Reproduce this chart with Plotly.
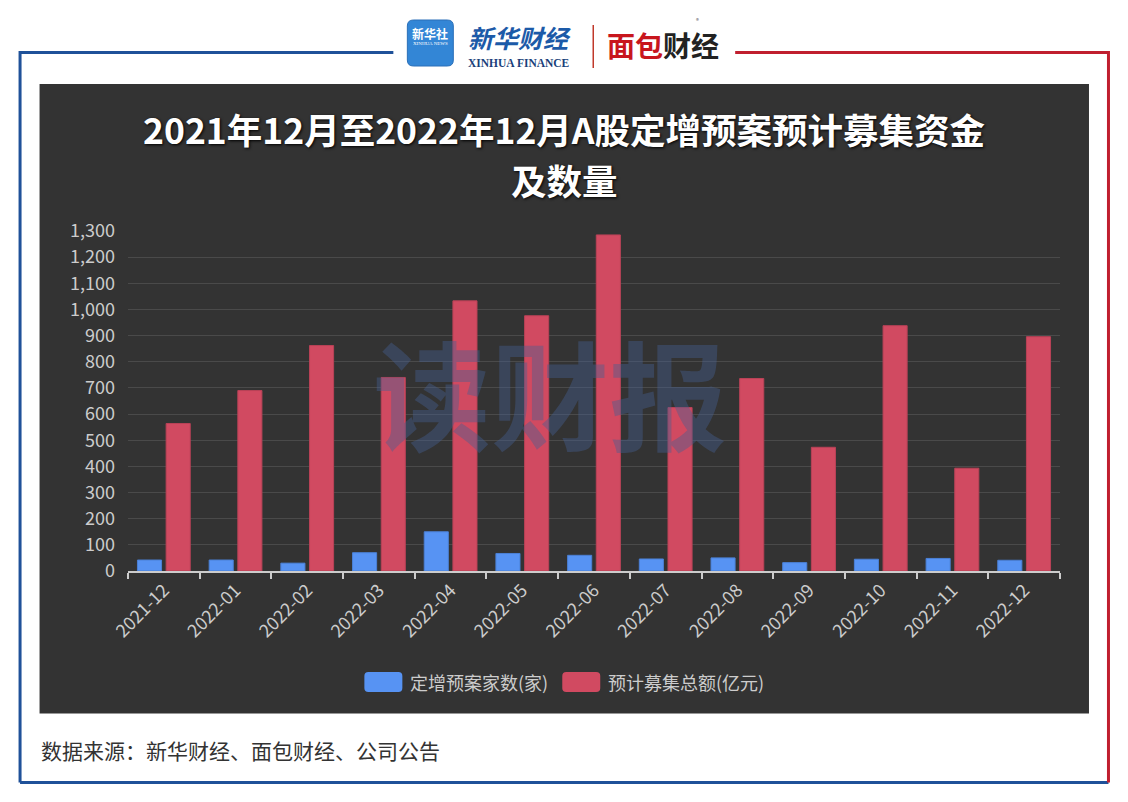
import plotly.graph_objects as go

# ---------------- data ----------------
months = ["2021-12", "2022-01", "2022-02", "2022-03", "2022-04", "2022-05", "2022-06",
          "2022-07", "2022-08", "2022-09", "2022-10", "2022-11", "2022-12"]
plan_count = [42, 42, 30, 70, 150, 67, 60, 46, 50, 32, 45, 48, 41]
raise_amount = [564, 690, 862, 740, 1033, 976, 1285, 625, 736, 473, 938, 393, 896]
series_names = ["定增预案家数(家)", "预计募集总额(亿元)"]
y_ticks = list(range(0, 1301, 100))
title_lines = ["2021年12月至2022年12月A股定增预案预计募集资金", "及数量"]
source_text = "数据来源：新华财经、面包财经、公司公告"
watermark = "读财报"

# ---------------- geometry helpers ----------------
W, H = 1128, 802
L, R, T, B = 127.5, 68, 231, 231
PW, PH = W - L - R, H - T - B


def px(x):
    return (x - L) / PW


def py(y):
    return (H - B - y) / PH


def rrect(x0, y0, x1, y1, r):
    rx, ry = r / PW, r / PH
    a0, a1 = px(x0), px(x1)
    b0, b1 = py(y1), py(y0)  # b0 bottom, b1 top
    return (f"M{a0+rx},{b0} L{a1-rx},{b0} Q{a1},{b0} {a1},{b0+ry} "
            f"L{a1},{b1-ry} Q{a1},{b1} {a1-rx},{b1} L{a0+rx},{b1} "
            f"Q{a0},{b1} {a0},{b1-ry} L{a0},{b0+ry} Q{a0},{b0} {a0+rx},{b0} Z")


BLUE, RED = "#5793f3", "#d14a61"
FONT = "Noto Sans CJK SC"

fig = go.Figure()
fig.add_trace(go.Bar(x=months, y=plan_count, name=series_names[0], marker_color=BLUE,
                     marker_line=dict(width=1, color="#4b80d6")))
fig.add_trace(go.Bar(x=months, y=raise_amount, name=series_names[1], marker_color=RED,
                     marker_line=dict(width=1, color="#b94257")))

shapes = []
# dark panel
shapes.append(dict(type="rect", xref="paper", yref="paper", x0=px(39), x1=px(1089),
                   y0=py(713.5), y1=py(84), fillcolor="#333333", line_width=0, layer="below"))
# frame lines
FB, FR = "#1f5199", "#c01f2f"
for (x0, y0, x1, y1, c) in [
    (19.5, 52.5, 393, 52.5, FB),
    (735, 52.5, 1108.5, 52.5, FR),
    (19.5, 51, 19.5, 782.5, FB),
    (19.5, 782.5, 1108.5, 782.5, FB),
    (1108.5, 51, 1108.5, 782.5, FR),
]:
    shapes.append(dict(type="line", xref="paper", yref="paper", x0=px(x0), x1=px(x1),
                       y0=py(y0), y1=py(y1), line=dict(color=c, width=3)))
# logo: blue icon
shapes.append(dict(type="path", xref="paper", yref="paper", path=rrect(407, 20, 453, 66, 6),
                   fillcolor="#3386d6", line=dict(color="#2a6fb8", width=1)))
# separator
shapes.append(dict(type="line", xref="paper", yref="paper", x0=px(593), x1=px(593),
                   y0=py(25), y1=py(68), line=dict(color="#c0392b", width=1.5)))
# legend swatches
shapes.append(dict(type="path", xref="paper", yref="paper", path=rrect(364, 672, 402, 692, 4),
                   fillcolor=BLUE, line_width=0))
shapes.append(dict(type="path", xref="paper", yref="paper", path=rrect(562, 672, 600, 692, 4),
                   fillcolor=RED, line_width=0))

ann = []
# title (two lines)
for text, yc in zip(title_lines, [128.5, 179.5]):
    ann.append(dict(xref="paper", yref="paper", x=px(564), y=py(yc), text="<b>" + text + "</b>",
                    showarrow=False, xanchor="center", yanchor="middle", align="center",
                    font=dict(family=FONT, size=35.5, color="#ffffff", shadow="1px 1px 3px #000")))
# watermark
ann.append(dict(xref="paper", yref="paper", x=px(550), y=py(390), text="<b>" + watermark + "</b>",
                showarrow=False, xanchor="center", yanchor="middle",
                font=dict(family=FONT, size=118, color="rgba(70,95,145,0.42)")))
# legend texts
ann.append(dict(xref="paper", yref="paper", x=px(408), y=py(682), text=series_names[0],
                showarrow=False, xanchor="left", yanchor="middle",
                font=dict(family=FONT, size=18, color="#cccccc")))
ann.append(dict(xref="paper", yref="paper", x=px(606), y=py(682), text=series_names[1],
                showarrow=False, xanchor="left", yanchor="middle",
                font=dict(family=FONT, size=18, color="#cccccc")))
# source
ann.append(dict(xref="paper", yref="paper", x=px(38), y=py(750), text=source_text,
                showarrow=False, xanchor="left", yanchor="middle",
                font=dict(family=FONT, size=21, color="#333333")))
# logos text
ann.append(dict(xref="paper", yref="paper", x=px(430), y=py(33), text="<b>新华社</b>",
                showarrow=False, xanchor="center", yanchor="middle",
                font=dict(family=FONT, size=12, color="#ffffff")))
ann.append(dict(xref="paper", yref="paper", x=px(430), y=py(44), text="XINHUA NEWS",
                showarrow=False, xanchor="center", yanchor="middle",
                font=dict(family="Liberation Serif", size=5, color="#ffffff")))
ann.append(dict(xref="paper", yref="paper", x=px(519), y=py(37), text="<b><i>新华财经</i></b>",
                showarrow=False, xanchor="center", yanchor="middle",
                font=dict(family=FONT, size=25, color="#1c5aa8")))
ann.append(dict(xref="paper", yref="paper", x=px(519), y=py(63), text="<b>XINHUA FINANCE</b>",
                showarrow=False, xanchor="center", yanchor="middle",
                font=dict(family="Liberation Serif", size=11.5, color="#1a3f7a")))
ann.append(dict(xref="paper", yref="paper", x=px(663), y=py(45),
                text="<b><span style='color:#c8161d'>面包</span><span style='color:#222222'>财经</span></b>",
                showarrow=False, xanchor="center", yanchor="middle",
                font=dict(family=FONT, size=28, color="#222222")))
ann.append(dict(xref="paper", yref="paper", x=px(697), y=py(20), text="®",
                showarrow=False, xanchor="center", yanchor="middle",
                font=dict(family=FONT, size=6, color="#555555")))

fig.update_layout(
    width=W, height=H,
    margin=dict(l=L, r=R, t=T, b=B, pad=0),
    paper_bgcolor="#ffffff", plot_bgcolor="rgba(0,0,0,0)",
    barmode="group", bargap=0.2, bargroupgap=0.16,
    showlegend=False,
    shapes=shapes, annotations=ann,
    font=dict(family=FONT),
)
fig.update_xaxes(type="category", tickson="boundaries", ticks="outside", ticklen=6,
                 tickcolor="#cccccc", tickwidth=1.5, showline=True, linecolor="#cccccc",
                 linewidth=1.5, tickangle=-45, showgrid=False,
                 tickfont=dict(family=FONT, size=18, color="#cccccc"))
fig.update_yaxes(range=[0, 1300], tickvals=y_ticks, tickformat=",", gridcolor="#4a4a4a",
                 gridwidth=1, zeroline=False, showline=False, ticks="",
                 ticklabelstandoff=12,
                 tickfont=dict(family=FONT, size=18, color="#cccccc"))

fig.write_html("out.html", config={"displayModeBar": False},
               post_script="document.body.style.margin='0';")
